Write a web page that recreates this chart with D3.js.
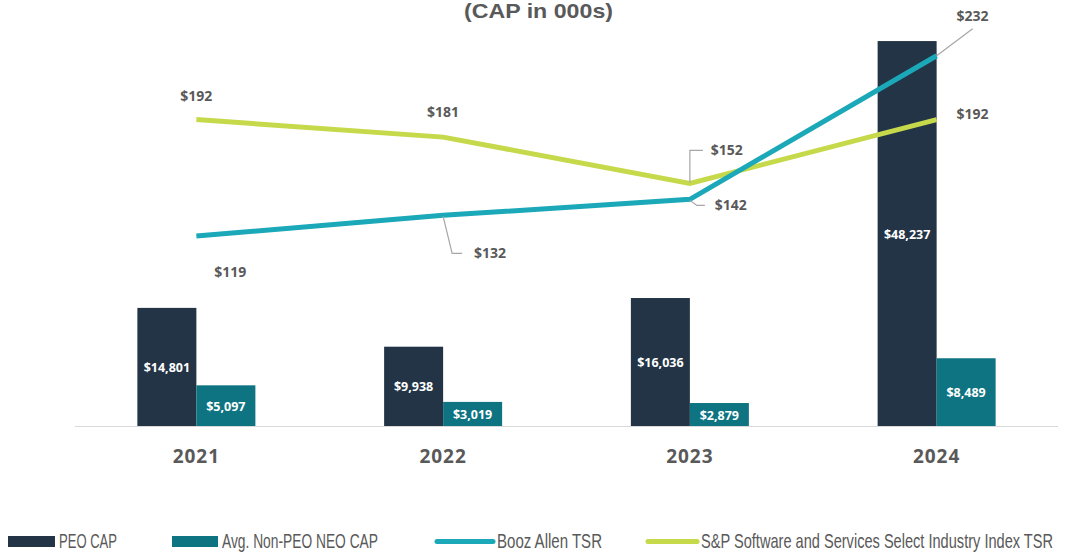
<!DOCTYPE html>
<html>
<head>
<meta charset="utf-8">
<script src="https://cdnjs.cloudflare.com/ajax/libs/d3/7.8.5/d3.min.js"></script>
<style>
  body { margin: 0; background: #fff; }
  svg { display: block; }
</style>
</head>
<body>
<div id="chart"></div>
<script>
var years = ["2021", "2022", "2023", "2024"];
var peoCap = [14801, 9938, 16036, 48237];
var neoCap = [5097, 3019, 2879, 8489];
var boozTSR = [119, 132, 142, 232];
var spTSR = [192, 181, 152, 192];
var seriesNames = ["PEO CAP", "Avg. Non-PEO NEO CAP", "Booz Allen TSR", "S&P Software and Services Select Industry Index TSR"];

var fullWidth = 1080, fullHeight = 556;
var margin = {top: 27, left: 73, right: 20},
    baseY = 426;

var colors = {peo: "#233446", neo: "#0e7482", booz: "#1ba8b8", sp: "#c6d94a"};
var narrow = "'Liberation Sans', Arial, sans-serif";
var labelFont = "'Open Sans', 'DejaVu Sans', sans-serif";

var svg = d3.select("#chart").append("svg")
  .attr("width", fullWidth)
  .attr("height", fullHeight);

var x = d3.scaleBand()
  .domain(years)
  .range([margin.left, fullWidth - margin.right]);

var yBar = d3.scaleLinear().domain([0, 50000]).range([baseY, margin.top]);
var yLine = d3.scaleLinear().domain([0, 250]).range([baseY, margin.top]);

var barW = 59;

// title (top is cut off in the original), squeezed to look condensed
svg.append("text")
  .attr("x", 464).attr("y", 18)
  .attr("textLength", 149).attr("lengthAdjust", "spacingAndGlyphs")
  .style("font-family", narrow)
  .style("font-weight", "bold")
  .style("font-size", "21px")
  .style("fill", "#595959")
  .text("(CAP in 000s)");

// baseline
svg.append("line")
  .attr("x1", 75).attr("x2", 1058)
  .attr("y1", baseY + 0.5).attr("y2", baseY + 0.5)
  .attr("stroke", "#d9d9d9");

var cx = function(d, i) { return x(years[i]) + x.bandwidth() / 2; };

// PEO bars
svg.selectAll(".peo").data(peoCap).enter().append("rect")
  .attr("class", "peo")
  .attr("x", function(d, i) { return cx(d, i) - barW; })
  .attr("y", function(d) { return yBar(d); })
  .attr("width", barW)
  .attr("height", function(d) { return baseY - yBar(d); })
  .attr("fill", colors.peo);

svg.selectAll(".neo").data(neoCap).enter().append("rect")
  .attr("class", "neo")
  .attr("x", function(d, i) { return cx(d, i); })
  .attr("y", function(d) { return yBar(d); })
  .attr("width", barW)
  .attr("height", function(d) { return baseY - yBar(d); })
  .attr("fill", colors.neo);

var fmt = function(d) { return "$" + d3.format(",")(d); };

svg.selectAll(".peoLbl").data(peoCap).enter().append("text")
  .attr("x", function(d, i) { return cx(d, i) - barW / 2; })
  .attr("y", function(d) { return (yBar(d) + baseY) / 2 + 5; })
  .attr("text-anchor", "middle")
  .style("font-family", labelFont).style("font-weight", "bold")
  .style("font-size", "12.5px").style("fill", "#fff")
  .text(fmt);

svg.selectAll(".neoLbl").data(neoCap).enter().append("text")
  .attr("x", function(d, i) { return cx(d, i) + barW / 2; })
  .attr("y", function(d) { return (yBar(d) + baseY) / 2 + 5; })
  .attr("text-anchor", "middle")
  .style("font-family", labelFont).style("font-weight", "bold")
  .style("font-size", "12.5px").style("fill", "#fff")
  .text(fmt);

// category labels
svg.selectAll(".yr").data(years).enter().append("text")
  .attr("x", function(d) { return x(d) + x.bandwidth() / 2; })
  .attr("y", 463)
  .attr("text-anchor", "middle")
  .style("font-family", labelFont).style("font-weight", "bold")
  .style("font-size", "19px").style("letter-spacing", "1px")
  .style("fill", "#595959")
  .text(function(d) { return d; });

// lines
var line = d3.line()
  .x(function(d, i) { return cx(d, i); })
  .y(function(d) { return yLine(d); });

svg.append("path").datum(spTSR)
  .attr("d", line).attr("fill", "none")
  .attr("stroke", colors.sp).attr("stroke-width", 5);

svg.append("path").datum(boozTSR)
  .attr("d", line).attr("fill", "none")
  .attr("stroke", colors.booz).attr("stroke-width", 5);

// line labels: offsets relative to the point, optional leader polyline
var boozLbl = [
  {dx: 34, dy: 36, lead: null},
  {dx: 47, dy: 38, lead: [[0, 1], [9, 38], [19, 38]]},
  {dx: 41, dy: 6, lead: [[0, 1], [7, 6], [15, 6]]},
  {dx: 36, dy: -40, lead: [[0, 0], [36, -27]]}
];
var spLbl = [
  {dx: 0, dy: -24, lead: null},
  {dx: 0, dy: -25, lead: null},
  {dx: 37, dy: -33, lead: [[0, -1], [0, -33], [13, -33]]},
  {dx: 36, dy: -6, lead: null}
];

function drawLabels(vals, lbls) {
  vals.forEach(function(v, i) {
    var px = cx(v, i), py = yLine(v), l = lbls[i];
    if (l.lead) {
      svg.append("polyline")
        .attr("points", l.lead.map(function(p) { return (px + p[0]) + "," + (py + p[1]); }).join(" "))
        .attr("fill", "none").attr("stroke", "#a6a6a6").attr("stroke-width", 1.2);
    }
    svg.append("text")
      .attr("x", px + l.dx).attr("y", py + l.dy + 5)
      .attr("text-anchor", "middle")
      .style("font-family", labelFont).style("font-weight", "bold")
      .style("font-size", "14px").style("fill", "#595959")
      .text("$" + v);
  });
}
drawLabels(boozTSR, boozLbl);
drawLabels(spTSR, spLbl);

// legend (text squeezed to the condensed widths of the original)
var legend = [
  {x: 8, w: 47, type: "bar", color: colors.peo, tw: 58},
  {x: 172, w: 46, type: "bar", color: colors.neo, tw: 156},
  {x: 437, w: 56, type: "line", color: colors.booz, tw: 105},
  {x: 648, w: 49, type: "line", color: colors.sp, tw: 352}
];
legend.forEach(function(d, i) {
  if (d.type === "bar") {
    svg.append("rect").attr("x", d.x).attr("y", 536).attr("width", d.w).attr("height", 11).attr("fill", d.color);
  } else {
    svg.append("line").attr("x1", d.x).attr("x2", d.x + d.w).attr("y1", 541.5).attr("y2", 541.5)
      .attr("stroke", d.color).attr("stroke-width", 5).attr("stroke-linecap", "round");
  }
  svg.append("text")
    .attr("x", d.x + d.w + 4).attr("y", 548)
    .attr("textLength", d.tw).attr("lengthAdjust", "spacingAndGlyphs")
    .style("font-family", narrow).style("font-size", "21px").style("fill", "#595959")
    .text(seriesNames[i]);
});
</script>
</body>
</html>
